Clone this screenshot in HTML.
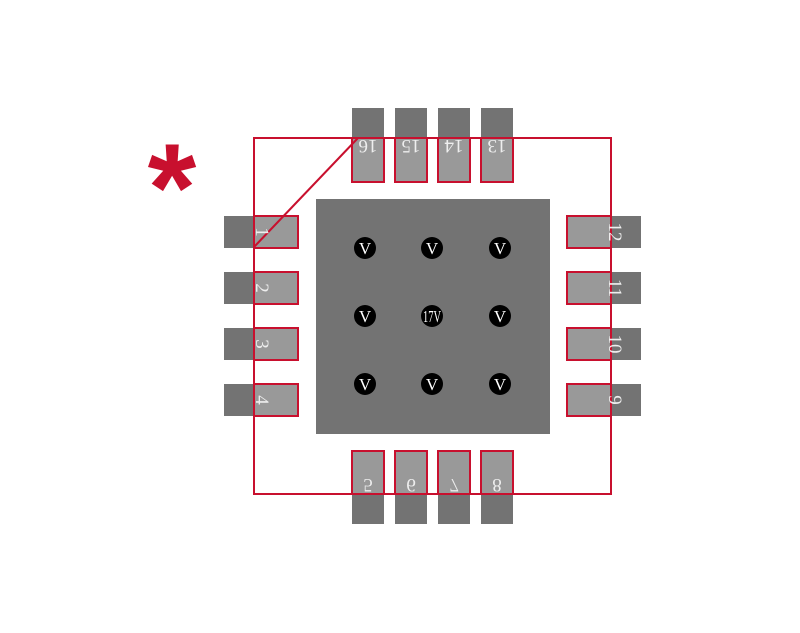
<!DOCTYPE html>
<html><head><style>body{margin:0;background:#fff}svg{display:block}</style></head><body>
<svg width="800" height="633" xmlns="http://www.w3.org/2000/svg" font-family="Liberation Serif, serif">
<rect width="800" height="633" fill="#fff"/>
<rect x="316" y="199" width="234" height="235" fill="#737373"/>
<g fill="#737373">
<rect x="352" y="108" width="32" height="74"/><rect x="395" y="108" width="32" height="74"/><rect x="438" y="108" width="32" height="74"/><rect x="481" y="108" width="32" height="74"/>
<rect x="352" y="451" width="32" height="73"/><rect x="395" y="451" width="32" height="73"/><rect x="438" y="451" width="32" height="73"/><rect x="481" y="451" width="32" height="73"/>
<rect x="224" y="216" width="74" height="32"/><rect x="224" y="272" width="74" height="32"/><rect x="224" y="328" width="74" height="32"/><rect x="224" y="384" width="74" height="32"/>
<rect x="567" y="216" width="74" height="32"/><rect x="567" y="272" width="74" height="32"/><rect x="567" y="328" width="74" height="32"/><rect x="567" y="384" width="74" height="32"/>
</g>
<g fill="#999" stroke="#c8102e" stroke-width="2">
<rect x="352" y="138" width="32" height="44"/><rect x="395" y="138" width="32" height="44"/><rect x="438" y="138" width="32" height="44"/><rect x="481" y="138" width="32" height="44"/>
<rect x="352" y="451" width="32" height="43"/><rect x="395" y="451" width="32" height="43"/><rect x="438" y="451" width="32" height="43"/><rect x="481" y="451" width="32" height="43"/>
<rect x="254" y="216" width="44" height="32"/><rect x="254" y="272" width="44" height="32"/><rect x="254" y="328" width="44" height="32"/><rect x="254" y="384" width="44" height="32"/>
<rect x="567" y="216" width="44" height="32"/><rect x="567" y="272" width="44" height="32"/><rect x="567" y="328" width="44" height="32"/><rect x="567" y="384" width="44" height="32"/>
</g>
<g fill="none" stroke="#c8102e" stroke-width="2">
<rect x="254" y="138" width="357" height="356"/>
<line x1="254" y1="247" x2="358" y2="138"/>
</g>
<g fill="#000">
<circle cx="365" cy="248" r="11"/><circle cx="432" cy="248" r="11"/><circle cx="500" cy="248" r="11"/>
<circle cx="365" cy="316" r="11"/><circle cx="432" cy="316" r="11"/><circle cx="500" cy="316" r="11"/>
<circle cx="365" cy="384" r="11"/><circle cx="432" cy="384" r="11"/><circle cx="500" cy="384" r="11"/>
</g>
<g fill="#fff" font-size="17" text-anchor="middle">
<text x="365" y="254">V</text><text x="432" y="254">V</text><text x="500" y="254">V</text>
<text x="365" y="322">V</text><text x="432" y="322" textLength="18" lengthAdjust="spacingAndGlyphs">17V</text><text x="500" y="322">V</text>
<text x="365" y="390">V</text><text x="432" y="390">V</text><text x="500" y="390">V</text>
</g>
<g fill="#eee" font-size="19" text-anchor="middle">
<text transform="translate(368,140) rotate(180)">16</text>
<text transform="translate(411,140) rotate(180)">15</text>
<text transform="translate(454,140) rotate(180)">14</text>
<text transform="translate(497,140) rotate(180)">13</text>
<text transform="translate(368,479) scale(1,-1)">5</text>
<text transform="translate(411,479) scale(1,-1)">6</text>
<text transform="translate(454,479) scale(1,-1)">7</text>
<text transform="translate(497,479) scale(1,-1)">8</text>
<text transform="translate(256,232) rotate(90)">1</text>
<text transform="translate(256,288) rotate(90)">2</text>
<text transform="translate(256,344) rotate(90)">3</text>
<text transform="translate(256,400) rotate(90)">4</text>
<text transform="translate(609,232) rotate(90)">12</text>
<text transform="translate(609,288) rotate(90)">11</text>
<text transform="translate(609,344) rotate(90)">10</text>
<text transform="translate(609,400) rotate(90)">9</text>
</g>
<text x="172" y="231" fill="#c8102e" font-family="Liberation Sans, sans-serif" font-size="125" font-weight="bold" text-anchor="middle">*</text>
</svg>
</body></html>
